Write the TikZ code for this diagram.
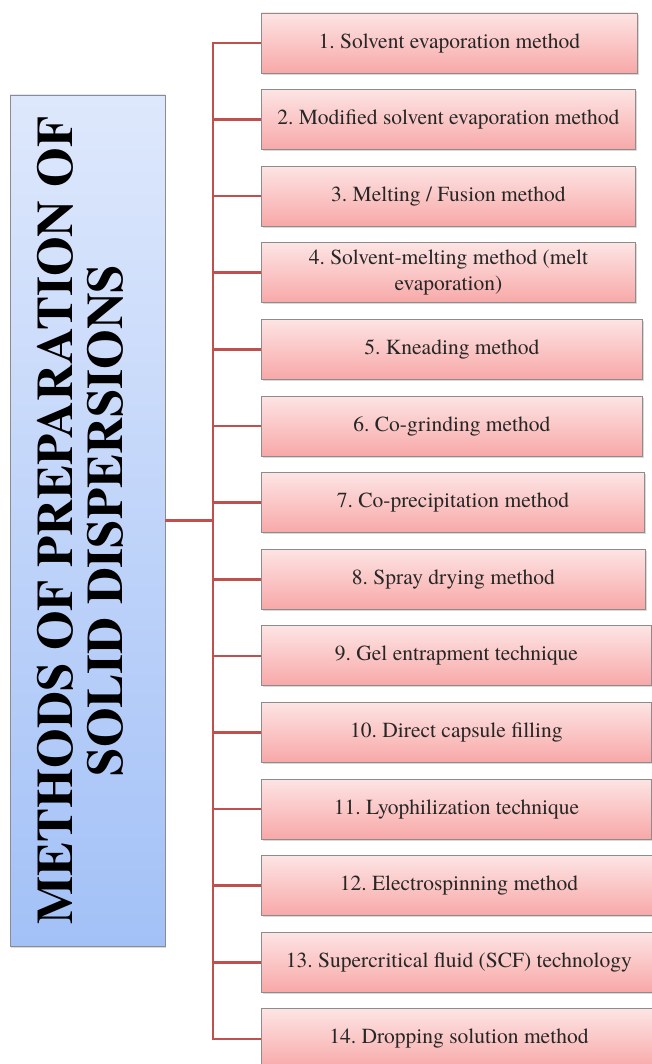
\documentclass[tikz,border=0pt]{standalone}
\usepackage{fontspec}
\setmainfont{texgyretermes}[Extension=.otf, UprightFont=*-regular, BoldFont=*-bold,
  ItalicFont=*-italic, BoldItalicFont=*-bolditalic]
\usetikzlibrary{shadows}
\definecolor{linkred}{RGB}{192,80,77}
\definecolor{pinktop}{RGB}{253,228,228}
\definecolor{pinkbot}{RGB}{248,168,168}
\definecolor{bluetop}{RGB}{222,232,252}
\definecolor{bluebot}{RGB}{163,193,247}
\definecolor{boxline}{RGB}{140,140,140}
\frenchspacing

\begin{document}
\begin{tikzpicture}[x=1pt, y=-1pt]
      \tikzstyle{method} = [draw=boxline, line width=0.8pt, top color=pinktop, bottom color=pinkbot,
        minimum height=60pt, inner sep=0pt, anchor=west, align=center, text=black!85,
        font=\fontsize{21.5}{26}\selectfont,
        drop shadow={opacity=0.3, shadow xshift=1.2pt, shadow yshift=-1.6pt}];
      \tikzstyle{titlebox} = [draw=boxline, line width=0.8pt, top color=bluetop, bottom color=bluebot,
        minimum width=155pt, minimum height=851pt, inner sep=0pt,
        font=\fontsize{51}{50}\selectfont\bfseries,
        drop shadow={opacity=0.3, shadow xshift=1.2pt, shadow yshift=-1.6pt}];
      \tikzstyle{link} = [draw=linkred, line width=2.6pt];
      \useasboundingbox (0,0) rectangle (652,1064);
      % left block
      \node (title) [titlebox] at (87.5,520.5)
        {\rotatebox{90}{\begin{tabular}{@{}c@{}}METHODS OF PREPARATION OF\\SOLID DISPERSIONS\end{tabular}}};
      \coordinate (bus) at (213,520.5);
      % the fourteen methods
      \foreach \i/\r/\t in {1/637/{1. Solvent evaporation method},
          2/635/{2. Modified solvent evaporation method},
          3/635/{3. Melting / Fusion method},
          4/635/{4. Solvent-melting method (melt\\evaporation)},
          5/642/{5. Kneading method},
          6/642/{6. Co-grinding method},
          7/644/{7. Co-precipitation method},
          8/645/{8. Spray drying method},
          9/651/{9. Gel entrapment technique},
          10/651/{10. Direct capsule filling},
          11/651/{11. Lyophilization technique},
          12/656/{12. Electrospinning method},
          13/656/{13. Supercritical fluid (SCF) technology},
          14/656/{14. Dropping solution method}}{
        \pgfmathsetmacro{\w}{\r-261}
        \node (m\i) [method, minimum width=\w pt] at (261, {43+76.6*(\i-1)}) {\t};
      }
      % connectors
      \draw[link] (title.east) -- (bus);
      \foreach \i in {1,...,14}{
        \draw[link] (bus) |- (m\i.west);
      }
\end{tikzpicture}
\end{document}
